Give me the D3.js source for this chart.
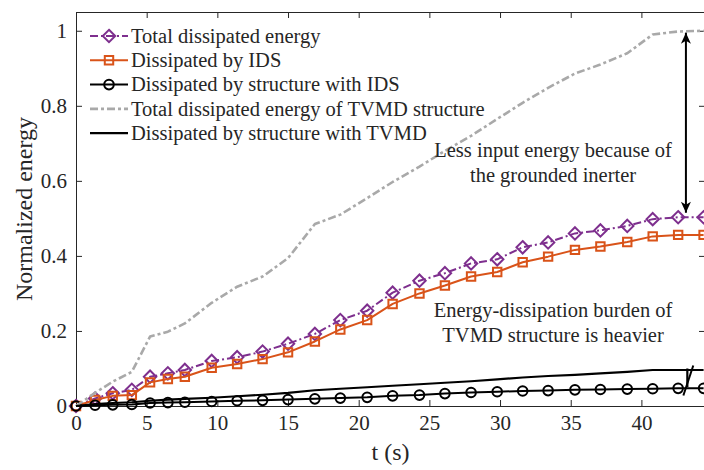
<!DOCTYPE html>
<html>
<head>
<meta charset="utf-8">
<script src="https://cdn.jsdelivr.net/npm/d3@7"></script>
<style>
body { margin: 0; background: #fff; }
svg text { font-family: "Liberation Serif", "Times New Roman", serif; fill: #262626; }
</style>
</head>
<body>
<script>
"use strict"
const w = 704;
const h = 470;
const plotLeft = 76, plotRight = 705, plotTop = 12, plotBottom = 406;

// time instants (s) where the energies were sampled
const timeSteps = [0, 1.35, 2.6, 3.95, 5.24, 6.5, 7.7, 9.6, 11.4, 13.2, 15.0, 16.9, 18.7, 20.6, 22.4,
	24.3, 26.1, 27.95, 29.8, 31.6, 33.4, 35.3, 37.1, 39.0, 40.8, 42.6, 44.4];

const totalIDS = [0, 0.02, 0.034, 0.043, 0.078, 0.087, 0.096, 0.12, 0.13, 0.145, 0.166, 0.192, 0.229, 0.254, 0.302,
	0.334, 0.354, 0.38, 0.391, 0.423, 0.436, 0.46, 0.468, 0.48, 0.498, 0.503, 0.503];
const dissipatedIDS = [0, 0.016, 0.027, 0.029, 0.063, 0.072, 0.078, 0.102, 0.112, 0.125, 0.143, 0.172, 0.204, 0.229, 0.272,
	0.3, 0.321, 0.345, 0.357, 0.383, 0.398, 0.416, 0.425, 0.437, 0.452, 0.456, 0.456];
const structureIDS = [0, 0.002, 0.003, 0.004, 0.008, 0.009, 0.01, 0.012, 0.014, 0.015, 0.017, 0.019, 0.021, 0.023, 0.027,
	0.029, 0.033, 0.036, 0.038, 0.04, 0.041, 0.043, 0.044, 0.045, 0.046, 0.047, 0.047];
const totalTVMD = [0, 0.035, 0.065, 0.091, 0.185, 0.198, 0.22, 0.275, 0.318, 0.345, 0.394, 0.485, 0.51, 0.554, 0.597,
	0.638, 0.68, 0.72, 0.765, 0.808, 0.848, 0.886, 0.91, 0.94, 0.99, 0.998, 1.0];
const structureTVMD = [0, 0.005, 0.008, 0.01, 0.014, 0.017, 0.019, 0.022, 0.026, 0.03, 0.035, 0.042, 0.046, 0.05, 0.054,
	0.058, 0.062, 0.066, 0.071, 0.076, 0.08, 0.083, 0.087, 0.091, 0.096, 0.096, 0.096];

const xTicks = [0, 5, 10, 15, 20, 25, 30, 35, 40];
const yTicks = [0, 0.2, 0.4, 0.6, 0.8, 1];

const seriesNames = ['Total dissipated energy', 'Dissipated by IDS', 'Dissipated by structure with IDS',
	'Total dissipated energy of TVMD structure', 'Dissipated by structure with TVMD'];

const series = [
	{name: seriesNames[0], values: totalIDS, color: '#7E2F8E', dash: '8,3,2,3', marker: 'diamond', width: 2},
	{name: seriesNames[1], values: dissipatedIDS, color: '#D95319', dash: null, marker: 'square', width: 2},
	{name: seriesNames[2], values: structureIDS, color: '#000000', dash: null, marker: 'circle', width: 2},
	{name: seriesNames[3], values: totalTVMD, color: '#A9A9A9', dash: '8,3,3,3', marker: null, width: 2.6},
	{name: seriesNames[4], values: structureTVMD, color: '#000000', dash: null, marker: null, width: 2.2}
];

const mySvg = d3.select('body')
	.append('svg')
	.attr('width', w)
	.attr('height', h);

const xScale = d3.scaleLinear().domain([0, 44.5]).range([plotLeft, plotRight]);
const yScale = d3.scaleLinear().domain([0, 1.05]).range([plotBottom, plotTop]);

const defs = mySvg.append('defs');
defs.append('clipPath')
	.attr('id', 'plot-clip')
	.append('rect')
	.attr('x', plotLeft - 8).attr('y', plotTop - 8)
	.attr('width', plotRight - plotLeft + 8).attr('height', plotBottom - plotTop + 16);

defs.append('marker')
	.attr('id', 'head')
	.attr('viewBox', '-12 -6 13 12')
	.attr('refX', 0).attr('refY', 0)
	.attr('markerWidth', 13).attr('markerHeight', 12)
	.attr('markerUnits', 'userSpaceOnUse')
	.attr('orient', 'auto-start-reverse')
	.append('path')
	.attr('d', 'M0,0 L-11,-5 L-8,0 L-11,5 Z')
	.attr('fill', '#000');

// axes, ticks pointing inwards like the matlab box
const fmt = d => d3.format('~g')(d);
const axisStyle = g => {
	g.selectAll('path.domain').attr('stroke', '#262626');
	g.selectAll('line').attr('stroke', '#262626');
	g.selectAll('text').style('font-size', '21px').attr('fill', '#262626');
};

mySvg.append('g')
	.attr('transform', 'translate(0,' + plotBottom + ')')
	.call(d3.axisBottom(xScale).tickValues(xTicks).tickFormat(fmt).tickSizeInner(-6).tickSizeOuter(0).tickPadding(9))
	.call(axisStyle);

mySvg.append('g')
	.attr('transform', 'translate(0,' + plotTop + ')')
	.call(d3.axisTop(xScale).tickValues(xTicks).tickFormat('').tickSizeInner(-6).tickSizeOuter(0))
	.call(axisStyle);

mySvg.append('g')
	.attr('transform', 'translate(' + plotLeft + ',0)')
	.call(d3.axisLeft(yScale).tickValues(yTicks).tickFormat(fmt).tickSizeInner(-6).tickSizeOuter(0).tickPadding(9))
	.call(axisStyle);

mySvg.append('g')
	.attr('transform', 'translate(' + plotRight + ',0)')
	.call(d3.axisRight(yScale).tickValues(yTicks).tickFormat('').tickSizeInner(-6).tickSizeOuter(0))
	.call(axisStyle);

// axis titles
mySvg.append('text')
	.attr('x', (plotLeft + plotRight) / 2)
	.attr('y', 460)
	.attr('text-anchor', 'middle')
	.style('font-size', '24px')
	.text('t (s)');

mySvg.append('text')
	.attr('transform', 'translate(32,' + ((plotTop + plotBottom) / 2) + ') rotate(-90)')
	.attr('text-anchor', 'middle')
	.style('font-size', '24px')
	.text('Normalized energy');

// lines
const plot = mySvg.append('g').attr('clip-path', 'url(#plot-clip)');

const markerPath = (type, size) => {
	if (type === 'diamond') return d3.symbol(d3.symbolDiamond2, size * size * 0.5)();
	if (type === 'square') return d3.symbol(d3.symbolSquare2, size * size)();
	return d3.symbol(d3.symbolCircle2, size * size * 0.8)();
};

series.forEach((s, k) => {
	const pts = timeSteps.map((t, i) => [t, s.values[i]]);
	const line = d3.line().x(d => xScale(d[0])).y(d => yScale(d[1]));
	plot.append('path')
		.datum(pts)
		.attr('d', line)
		.attr('fill', 'none')
		.attr('stroke', s.color)
		.attr('stroke-width', s.width)
		.attr('stroke-dasharray', s.dash)
		.attr('stroke-linejoin', 'round');
	if (s.marker) {
		plot.selectAll('.m' + k)
			.data(pts)
			.enter()
			.append('path')
			.attr('class', 'm' + k)
			.attr('transform', d => 'translate(' + xScale(d[0]) + ',' + yScale(d[1]) + ')')
			.attr('d', markerPath(s.marker, s.marker === 'diamond' ? 14 : 9.5))
			.attr('fill', 'none')
			.attr('stroke', s.color)
			.attr('stroke-width', 2);
	}
});

// legend
const legend = mySvg.append('g');
series.forEach((s, i) => {
	const y = 36 + i * 24.3;
	const row = legend.append('g');
	row.append('line')
		.attr('x1', 90).attr('x2', 128)
		.attr('y1', y).attr('y2', y)
		.attr('stroke', s.color)
		.attr('stroke-width', s.width)
		.attr('stroke-dasharray', s.dash);
	if (s.marker) {
		row.append('path')
			.attr('transform', 'translate(109,' + y + ')')
			.attr('d', markerPath(s.marker, s.marker === 'diamond' ? 14 : 9.5))
			.attr('fill', 'none')
			.attr('stroke', s.color)
			.attr('stroke-width', 2);
	}
	row.append('text')
		.attr('x', 131)
		.attr('y', y)
		.attr('dy', '0.33em')
		.style('font-size', '20.5px')
		.attr('fill', '#000')
		.text(s.name);
});

// annotations
const arrowT = 43.15;
mySvg.append('line')
	.attr('x1', xScale(arrowT)).attr('x2', xScale(arrowT))
	.attr('y1', yScale(0.995)).attr('y2', yScale(0.515))
	.attr('stroke', '#000')
	.attr('stroke-width', 2)
	.attr('marker-start', 'url(#head)')
	.attr('marker-end', 'url(#head)');

const smallT = 43.25;
mySvg.append('line')
	.attr('x1', xScale(smallT)).attr('x2', xScale(smallT))
	.attr('y1', yScale(0.1)).attr('y2', yScale(0.05))
	.attr('stroke', '#000')
	.attr('stroke-width', 2.2);
mySvg.append('line')
	.attr('x1', xScale(smallT - 0.28)).attr('x2', xScale(smallT + 0.42))
	.attr('y1', yScale(0.028)).attr('y2', yScale(0.108))
	.attr('stroke', '#000')
	.attr('stroke-width', 2);

const notes = [
	{t: 33.75, v: 0.664, lines: ['Less input energy because of', 'the grounded inerter']},
	{t: 33.75, v: 0.238, lines: ['Energy-dissipation burden of', 'TVMD structure is heavier']}
];
notes.forEach(n => {
	const txt = mySvg.append('text')
		.attr('x', xScale(n.t))
		.attr('y', yScale(n.v))
		.attr('text-anchor', 'middle')
		.style('font-size', '20.5px')
		.attr('fill', '#000');
	n.lines.forEach((l, i) => {
		txt.append('tspan')
			.attr('x', xScale(n.t))
			.attr('dy', i === 0 ? 0 : 25.5)
			.text(l);
	});
});
</script>
</body>
</html>
